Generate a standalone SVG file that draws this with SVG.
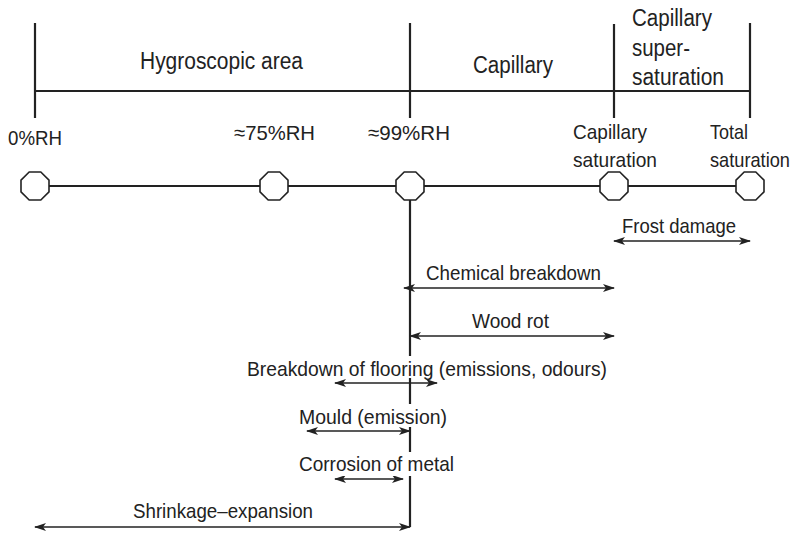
<svg xmlns="http://www.w3.org/2000/svg" width="800" height="533" viewBox="0 0 800 533">
  <style>
    text { font-family: "Liberation Sans", Arial, sans-serif; fill: #222; }
    .zone { font-size: 23px; }
    .lbl { font-size: 21px; }
    .frame { stroke: #222; stroke-width: 2.2; fill: none; }
    .axis { stroke: #222; stroke-width: 2.2; fill: none; }
    .node { fill: #fff; stroke: #222; stroke-width: 1.6; }
    .span { stroke: #222; stroke-width: 1.4; fill: none; marker-start: url(#head); marker-end: url(#head); }
    .knock { fill: #fff; }
  </style>
  <defs>
    <marker id="head" viewBox="0 0 12 8" refX="11" refY="4" markerWidth="12" markerHeight="8" markerUnits="userSpaceOnUse" orient="auto-start-reverse">
      <path d="M0,0 L12,4 L0,8 L3,4 Z" fill="#222"/>
    </marker>
    <polygon id="oct" points="-5.8,-14 5.8,-14 14,-5.8 14,5.8 5.8,14 -5.8,14 -14,5.8 -14,-5.8"/>
  </defs>

  <!-- zone bracket across the top -->
  <g id="zones">
    <path class="frame" d="M35,23 V118 M410,23 V118 M614,24 V118 M750,23 V118 M35,91 H750"/>
    <text class="zone" x="140" y="69" textLength="163" lengthAdjust="spacingAndGlyphs">Hygroscopic area</text>
    <text class="zone" x="473" y="73" textLength="80" lengthAdjust="spacingAndGlyphs">Capillary</text>
    <text class="zone" x="632" y="26" textLength="80" lengthAdjust="spacingAndGlyphs">Capillary</text>
    <text class="zone" x="632" y="56" textLength="58" lengthAdjust="spacingAndGlyphs">super-</text>
    <text class="zone" x="632" y="85" textLength="92" lengthAdjust="spacingAndGlyphs">saturation</text>
  </g>

  <!-- connectors: scale axis, main drop line and range arrows -->
  <g id="connectors">
    <path class="axis" d="M35,186 H750"/>
    <path class="axis" stroke-width="2.6" d="M410,186 V527"/>
    <line class="span" x1="614" y1="241" x2="750" y2="241"/>
    <line class="span" x1="404" y1="288" x2="614" y2="288"/>
    <line class="span" x1="410" y1="336" x2="614" y2="336"/>
    <line class="span" x1="335" y1="383" x2="437" y2="383"/>
    <line class="span" x1="307" y1="431" x2="410" y2="431"/>
    <line class="span" x1="335" y1="479" x2="403" y2="479"/>
    <line class="span" x1="35" y1="527" x2="410" y2="527"/>
  </g>

  <!-- points on the scale -->
  <g id="n0"><use href="#oct" class="node" x="35" y="186"/><text class="lbl" x="8" y="145" textLength="54" lengthAdjust="spacingAndGlyphs">0%RH</text></g>
  <g id="n75"><use href="#oct" class="node" x="274" y="186"/><text class="lbl" x="234" y="140" textLength="81" lengthAdjust="spacingAndGlyphs">≈75%RH</text></g>
  <g id="n99"><use href="#oct" class="node" x="410" y="186"/><text class="lbl" x="368" y="140" textLength="82" lengthAdjust="spacingAndGlyphs">≈99%RH</text></g>
  <g id="ncap">
    <use href="#oct" class="node" x="614" y="186"/>
    <text class="lbl" x="573" y="139" textLength="74" lengthAdjust="spacingAndGlyphs">Capillary</text>
    <text class="lbl" x="573" y="167" textLength="84" lengthAdjust="spacingAndGlyphs">saturation</text>
  </g>
  <g id="ntot">
    <use href="#oct" class="node" x="750" y="186"/>
    <text class="lbl" x="710" y="139" textLength="38" lengthAdjust="spacingAndGlyphs">Total</text>
    <text class="lbl" x="710" y="167" textLength="80" lengthAdjust="spacingAndGlyphs">saturation</text>
  </g>

  <!-- range labels -->
  <g id="frost"><text class="lbl" x="622" y="233" textLength="114" lengthAdjust="spacingAndGlyphs">Frost damage</text></g>
  <g id="chemical"><text class="lbl" x="426" y="280" textLength="175" lengthAdjust="spacingAndGlyphs">Chemical breakdown</text></g>
  <g id="woodrot"><text class="lbl" x="472" y="328" textLength="77" lengthAdjust="spacingAndGlyphs">Wood rot</text></g>
  <g id="flooring">
    <rect class="knock" x="245" y="356" width="364" height="22"/>
    <text class="lbl" x="247" y="376" textLength="360" lengthAdjust="spacingAndGlyphs">Breakdown of flooring (emissions, odours)</text>
  </g>
  <g id="mould">
    <rect class="knock" x="297" y="404" width="152" height="23"/>
    <text class="lbl" x="299" y="424" textLength="148" lengthAdjust="spacingAndGlyphs">Mould (emission)</text>
  </g>
  <g id="corrosion">
    <rect class="knock" x="297" y="452" width="159" height="24"/>
    <text class="lbl" x="299" y="471" textLength="155" lengthAdjust="spacingAndGlyphs">Corrosion of metal</text>
  </g>
  <g id="shrinkage"><text class="lbl" x="133" y="518" textLength="180" lengthAdjust="spacingAndGlyphs">Shrinkage–expansion</text></g>
</svg>
